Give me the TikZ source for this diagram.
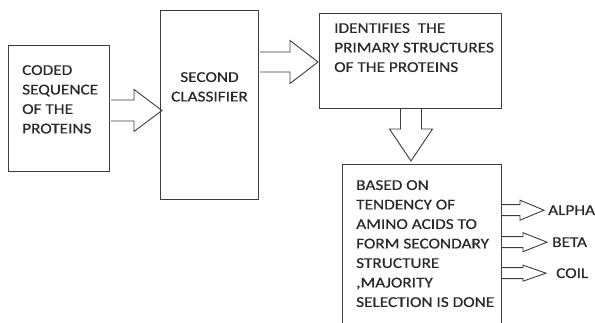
\documentclass[tikz,border=0pt]{standalone}
\usepackage{fontspec}
\setmainfont{Carlito}[FakeStretch=1.15,FakeBold=0.6]
\usepackage{tikz}
\usetikzlibrary{positioning,calc}
\definecolor{inkgray}{HTML}{3C3C3C}
\definecolor{textdark}{HTML}{2A2A2A}

\begin{document}
\begin{tikzpicture}[x=1pt,y=-1pt,font=\fontsize{15}{19.5}\selectfont,
  box/.style={draw=inkgray,line width=1pt,rectangle,inner sep=0pt},
  txt/.style={text=textdark,align=left,inner sep=0pt},
  fat/.style={draw=inkgray,line width=0.9pt,line join=miter},
  pics/fatarrow/.style n args={4}{code={% length, shaft half, head half, head length
    \draw[fat] (0,-#2) -- (#1-#4,-#2) -- (#1-#4,-#3) -- (#1,0)
      -- (#1-#4,#3) -- (#1-#4,#2) -- (0,#2);}}]
\useasboundingbox (0,0) rectangle (595,323);
\clip (0,0) rectangle (595,323);
% blocks
\node[box,minimum width=101pt,minimum height=126pt,anchor=north west] (seq) at (8,45) {};
\node[box,minimum width=98pt,minimum height=189pt,anchor=north west] (clf) at (160,10) {};
\node[box,minimum width=182pt,minimum height=95pt,anchor=north west] (prim) at (319,13) {};
\node[box,minimum width=159pt,minimum height=180pt,anchor=north west] (sec) at (342,164) {};
% texts
\node[txt,anchor=north west] (seqtxt) at ($(seq.north west)+(14,20)$) {CODED\\SEQUENCE\\OF THE\\PROTEINS};
\node[txt,align=center,anchor=north] (clftxt) at ($(clf.north)+(0,62)$) {SECOND\\CLASSIFIER};
\node[txt,anchor=north west] (primtxt) at ($(prim.north west)+(15,10)$) {IDENTIFIES~~THE\\PRIMARY STRUCTURES\\OF THE PROTEINS};
\node[txt,anchor=north west] (sectxt) at ($(sec.north west)+(14,16)$) {BASED ON\\TENDENCY OF\\AMINO ACIDS TO\\FORM SECONDARY\\STRUCTURE\\,MAJORITY\\SELECTION IS DONE};
% outputs
\node[txt,anchor=base west] (alpha) at (548,215) {ALPHA};
\node[txt,anchor=base west] (beta) at (552,247) {BETA};
\node[txt,anchor=base west] (coil) at (556,278) {COIL};
% block arrows
\pic at ($(seq.east |- 0,110.5)+(1,0)$) {fatarrow={51}{10.5}{21}{28}};
\pic at ($(clf.east |- 0,62)+(1,0)$) {fatarrow={58}{10}{21.5}{28}};
\pic[rotate=-90] at ($(prim.south)+(0.5,0)$) {fatarrow={52}{10.5}{21.5}{32}};
\pic at (sec.east |- alpha.west) {fatarrow={42}{5.5}{10}{24}};
\pic at (sec.east |- beta.west) {fatarrow={45}{5.5}{9.5}{24}};
\pic at (sec.east |- coil.west) {fatarrow={44}{5.5}{8}{23}};
\end{tikzpicture}
\end{document}
